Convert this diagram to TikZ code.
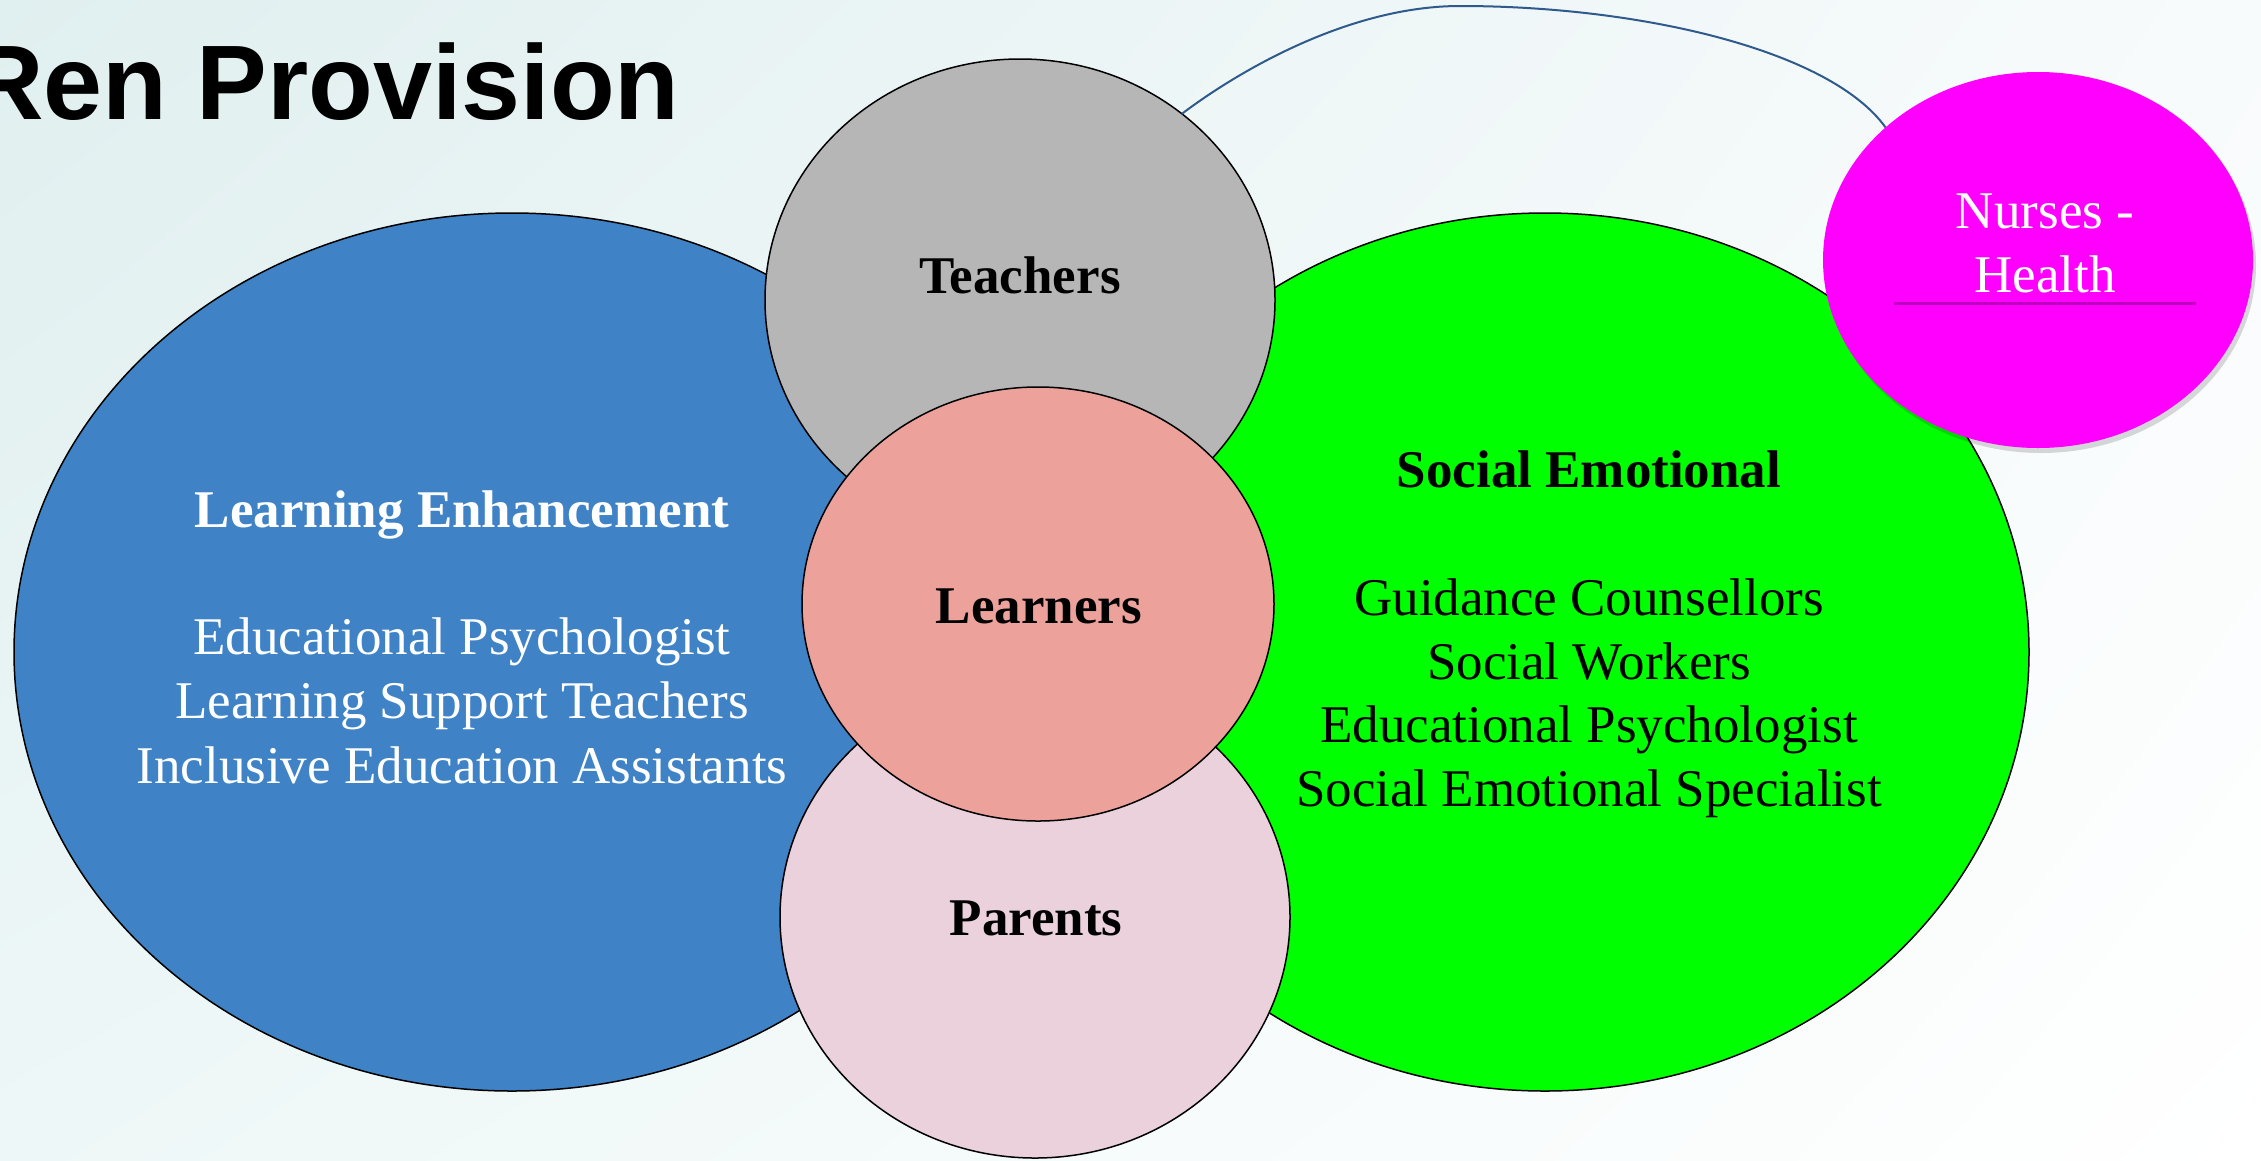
\documentclass[tikz,border=0pt]{standalone}
\usepackage{fontspec}
\setmainfont{Liberation Serif}
\newfontfamily\titlefont{Liberation Sans}
\usetikzlibrary{shapes.geometric,shadows,shadings}
\definecolor{leblue}{HTML}{3F83C6}
\definecolor{segreen}{HTML}{00FF00}
\definecolor{teachgray}{HTML}{B6B6B6}
\definecolor{learnsalmon}{HTML}{ECA29B}
\definecolor{parentpink}{HTML}{EAD1DC}
\definecolor{nursemag}{HTML}{FF00FF}
\definecolor{connblue}{HTML}{2F5A8C}
\definecolor{bgul}{HTML}{E0EFEF}
\definecolor{bgur}{HTML}{F8FBFC}
\definecolor{bgll}{HTML}{EEF7F7}
\definecolor{bglr}{HTML}{FFFFFF}
\begin{document}
\begin{tikzpicture}[x=1pt,y=-1pt,
  bubble/.style={ellipse,draw=black,line width=1.5pt,inner sep=0pt,outer sep=0pt},
  lbl/.style={anchor=base,inner sep=0pt,outer sep=0pt,font=\fontsize{53}{64}\selectfont},
  hd/.style={lbl,font=\fontsize{53}{64}\selectfont\bfseries},
  conn/.style={draw=connblue,line width=2pt}
]
\shade[upper left=bgul,upper right=bgur,lower left=bgll,lower right=bglr] (0,0) rectangle (2261,1160);
\useasboundingbox (0,0) rectangle (2261,1160);

% title
\node[anchor=base east,inner sep=0pt,font=\titlefont\bfseries\fontsize{106}{120}\selectfont] (title) at (680,119) {Ren Provision};

% circles
\node[bubble,fill=leblue,minimum width=996pt,minimum height=878pt] (le) at (512,652) {};
\node[bubble,fill=segreen,minimum width=968pt,minimum height=878pt] (se) at (1545,652) {};
\node[bubble,fill=teachgray,minimum width=510pt,minimum height=482pt] (teach) at (1020,300) {};
\node[bubble,fill=parentpink,minimum width=510pt,minimum height=482pt] (par) at (1035,917) {};
\node[bubble,fill=learnsalmon,minimum width=472pt,minimum height=434pt] (learn) at (1038,604) {};
\node[ellipse,fill=nursemag,inner sep=0pt,outer sep=0pt,minimum width=430pt,minimum height=376pt,
  drop shadow={shadow xshift=3pt,shadow yshift=-5pt,opacity=0.15,fill=black}] (nurse) at (2038,260) {};
\node[rectangle,fill=nursemag,inner sep=0pt,minimum width=302pt,minimum height=123pt,
  drop shadow={shadow xshift=0pt,shadow yshift=-3pt,opacity=0.25,fill=black}] (nbox) at (2045,240.5) {};

% texts
\node[hd,text=white] (leh) at (462,527) {Learning Enhancement};
\node[lbl,text=white] (le1) at (462,654) {Educational Psychologist};
\node[lbl,text=white] (le2) at (462,718) {Learning Support Teachers};
\node[lbl,text=white] (le3) at (462,783) {Inclusive Education Assistants};

\node[hd] (seh) at (1589,487) {Social Emotional};
\node[lbl] (se1) at (1589,615) {Guidance Counsellors};
\node[lbl] (se2) at (1589,679) {Social Workers};
\node[lbl] (se3) at (1589,742) {Educational Psychologist};
\node[lbl] (se4) at (1589,806) {Social Emotional Specialist};

\node[hd] (teacht) at (1020,293) {Teachers};
\node[hd] (learnt) at (1039,623) {Learners};
\node[hd] (part) at (1036,935) {Parents};

\node[lbl,text=white] (n1) at (2045,228) {Nurses -};
\node[lbl,text=white] (n2) at (2045,292) {Health};

% connector
\coordinate (peak) at (1460,6);
\draw[conn] (teach.49) .. controls (1240,70) and (1350,6) .. (peak)
  .. controls (1640,6) and (1830,50) .. (nurse.139);
\end{tikzpicture}
\end{document}
